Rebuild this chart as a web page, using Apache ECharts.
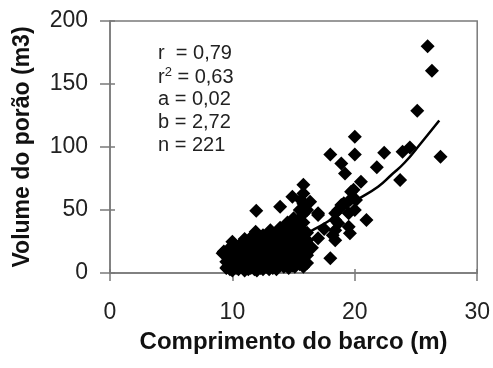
<!DOCTYPE html>
<html>
<head>
<meta charset="utf-8">
<script src="https://cdn.jsdelivr.net/npm/echarts@6/dist/echarts.min.js"></script>
<style>html,body{margin:0;padding:0;background:#fff}#c{width:493px;height:368px}</style>
</head>
<body>
<div id="c"></div>
<script>
var xTicks = [0, 10, 20, 30];
var yTicks = [0, 50, 100, 150, 200];
var statsLabels = ['r  = 0,79', 'r2 = 0,63', 'a = 0,02', 'b = 2,72', 'n = 221'];

// observed points [length m, hold volume m3]
var boats = [
 [9.5,4],[9.5,9],[9.5,15],[9.2,15.6],[9.6,5],[9.3,17],
 [9.8,3],[9.8,7],[9.8,12],[9.8,20],
 [10,2],[10,5],[10,9],[10,14],[10,19],[10,24.8],
 [10.3,4],[10.3,8],[10.3,12],[10.3,17],
 [10.5,3],[10.5,6],[10.5,10],[10.5,15],[10.5,21],
 [10.8,5],[10.8,9],[10.8,13],[10.8,18],[10.8,24],
 [11,2],[11,4],[11,7],[11,11],[11,16],[11,20],[11,27],
 [11.3,3],[11.3,6],[11.3,10],[11.3,14],[11.3,19],[11.3,23],
 [11.5,4],[11.5,8],[11.5,12],[11.5,17],[11.5,22],[11.5,28],
 [11.8,3],[11.8,7],[11.8,11],[11.8,15],[11.8,20],[11.8,26],
 [12,2],[12,5],[12,9],[12,13],[12,18],[12,24],[11.9,32.8],[11.95,49.4],
 [12.3,4],[12.3,8],[12.3,12],[12.3,16],[12.3,21],[12.3,27],
 [12.5,3],[12.5,6],[12.5,10],[12.5,15],[12.5,19],[12.5,25],[12.5,30],
 [12.8,5],[12.8,9],[12.8,13],[12.8,18],[12.8,23],[12.8,28],
 [13,3],[13,7],[13,11],[13,16],[13,20],[13,26],[13.1,34],
 [13.3,4],[13.3,8],[13.3,12],[13.3,17],[13.3,22],[13.3,29],
 [13.5,5],[13.5,10],[13.5,14],[13.5,19],[13.5,25],[13.5,31],
 [13.9,6],[13.9,11],[13.9,15],[13.9,20],[13.9,27],[13.9,36],[13.9,52.6],
 [14.2,5],[14.2,9],[14.2,14],[14.2,18],[14.2,24],[14.2,30],
 [14.5,7],[14.5,12],[14.5,17],[14.5,22],[14.5,28],[14.5,35],[14.5,40],
 [14.9,6],[14.9,10],[14.9,15],[14.9,21],[14.9,26],[14.9,33],[15,43.4],[14.9,60.6],
 [15.2,8],[15.2,13],[15.2,18],[15.2,24],[15.2,30],[15.2,37],
 [15.5,7],[15.5,12],[15.5,17],[15.5,22],[15.4,32],[15.5,35],[15.4,42],[15.5,50],[15.6,58],
 [15.8,5],[15.8,10],[15.8,16],[15.8,21],[15.8,27],[15.8,33],[15.8,40],[15.8,47],[15.8,55],[15.8,63],[15.8,70],
 [16.1,8],[16.1,14],[16.1,20],[16.1,26],[16.1,32],[16.1,50],[16.35,56.6],
 [9.9,10],[10.2,6],[10.6,12],[10.9,7],[11.1,14],[11.4,5],[11.7,9],[11.9,17],[12.2,6],
 [12.6,12],[12.9,7],[13.2,15],[13.4,6],[13.7,12],[14.0,8],[14.3,16],[14.7,9],[15.0,18],
 [15.3,10],[15.6,14],[14.0,24],[13.7,22],[12.1,21],[11.2,9],[14.6,4],[15.1,5],[13.6,3],
 [16.5,20],[17,27.5],[17,47.4],[17,46],[17.5,35],[18,11.7],[18.4,26],[18.2,30],
 [18.4,34],[18.65,39.4],[18.4,42],[18.4,47.4],[18.65,50],[18.9,54],[19.1,55.3],
 [19.6,31.5],[19.5,36.7],[19.5,47.4],[20,50],[19.6,58],[20.1,57.9],[20.95,42],
 [19.9,66],[19.7,64.5],[20.5,72.5],[19.2,79],[18.9,87],[18,94],[20,94],
 [20,108.2],[21.8,84],[22.4,95.5],[23.9,96.3],[24.5,99.7],[23.7,73.8],
 [27,92.3],[25.1,128.8],[26.3,160.6],[25.95,180]
];

// fitted power curve as drawn in the picture
var fitLine = [
 [9.5,7],[10,8],[12,13.5],[14,20.5],[16,29.5],[16.35,32.8],[18,42],
 [19.2,51],[20,57],[21.9,68.5],[23,78],[24.06,87.5],[25.4,103],[26.9,121]
];

var chart = echarts.init(document.getElementById('c'), null, {renderer: 'canvas'});
var FONT = 'Liberation Sans, Arial, sans-serif';
var axisCol = '#7a7a7a';

chart.setOption({
  backgroundColor: '#fff',
  animation: false,
  grid: {left: 110, right: 13, top: 21, bottom: 95, show: true, borderColor: axisCol, borderWidth: 1.5, backgroundColor: 'transparent'},
  xAxis: [{
    type: 'value', min: 0, max: 30, interval: 10,
    axisLine: {show: true, lineStyle: {color: axisCol, width: 1.5}},
    axisTick: {show: true, length: 8, lineStyle: {color: axisCol, width: 1.5}},
    splitLine: {show: false},
    axisLabel: {color: '#222', fontSize: 23, fontFamily: FONT, margin: 28,
      formatter: function(v){ return xTicks.indexOf(v) >= 0 ? String(v) : ''; }},
    name: 'Comprimento do barco (m)', nameLocation: 'middle', nameGap: 57,
    nameTextStyle: {color: '#111', fontSize: 24, fontWeight: 'bold', fontFamily: FONT}
  }, {
    type: 'value', min: 0, max: 30, interval: 10, position: 'bottom', gridIndex: 0,
    axisLine: {show: false}, axisLabel: {show: false}, splitLine: {show: false},
    axisTick: {show: true, inside: true, length: 4, lineStyle: {color: axisCol, width: 1.5}}
  }],
  yAxis: [{
    type: 'value', min: 0, max: 200, interval: 50,
    axisLine: {show: true, lineStyle: {color: axisCol, width: 1.5}},
    axisTick: {show: true, length: 10, lineStyle: {color: axisCol, width: 1.5}},
    splitLine: {show: false},
    axisLabel: {color: '#222', fontSize: 23, fontFamily: FONT, margin: 22,
      formatter: function(v){ return yTicks.indexOf(v) >= 0 ? String(v) : ''; }},
    name: 'Volume do porão (m3)', nameLocation: 'middle', nameGap: 76,
    nameTextStyle: {color: '#111', fontSize: 23, fontWeight: 'bold', fontFamily: FONT}
  }, {
    type: 'value', min: 0, max: 200, interval: 50, position: 'left',
    axisLine: {show: false}, axisLabel: {show: false}, splitLine: {show: false},
    axisTick: {show: true, inside: true, length: 5, lineStyle: {color: axisCol, width: 1.5}}
  }],
  graphic: [{
    type: 'group', left: 158, top: 43,
    children: statsLabels.map(function(s, i){
      var isR2 = s.indexOf('r2') === 0;
      return {
        type: 'text', left: 0, top: i * 23,
        style: isR2 ? {
          text: '{b|r}{s|2}{b| = ' + s.split('= ')[1] + '}',
          rich: {b: {fontSize: 20, fontFamily: FONT, fill: '#222'},
                 s: {fontSize: 13, fontFamily: FONT, fill: '#222', verticalAlign: 'top', padding: [0,0,9,0]}}
        } : {text: s, fontSize: 20, fontFamily: FONT, fill: '#222'}
      };
    })
  }],
  series: [{
    type: 'scatter', data: boats, symbol: 'diamond', symbolSize: 14,
    itemStyle: {color: '#000', opacity: 1}, z: 2
  }, {
    type: 'line', data: fitLine, smooth: true, showSymbol: false, symbol: 'none',
    lineStyle: {color: '#000', width: 2.5}, z: 3
  }]
});
</script>
</body>
</html>
